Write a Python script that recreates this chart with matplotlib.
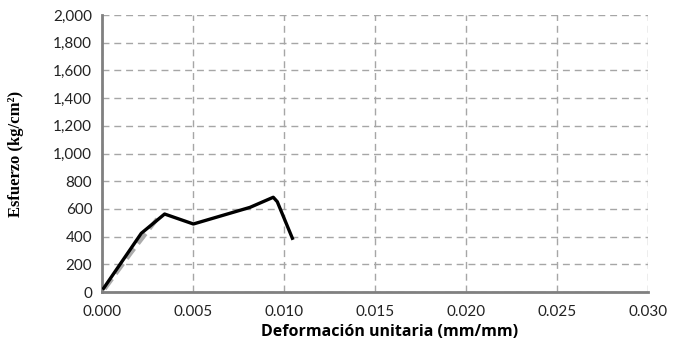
import matplotlib
matplotlib.use("Agg")
import matplotlib.pyplot as plt
from matplotlib.ticker import FuncFormatter

strain = [0.00009, 0.00216, 0.00344, 0.00502, 0.00813, 0.00941, 0.00963, 0.01046]
stress = [27, 424, 563, 491, 611, 684, 652, 388]

fit_strain = [0.00015, 0.00161, 0.00317]
fit_stress = [22, 285, 552]

xticks = [0.000, 0.005, 0.010, 0.015, 0.020, 0.025, 0.030]
yticks = list(range(0, 2001, 200))

fig = plt.figure(figsize=(6.73, 3.45), dpi=100)
ax = fig.add_axes([102/673, 1-292/345, (648-102)/673, (292-15)/345])

ax.plot(fit_strain, fit_stress, color="#ababab", lw=3.0, linestyle=(0, (3, 1.5)), zorder=3)
ax.plot(strain, stress, color="black", lw=2.4, zorder=4, solid_joinstyle="round")

ax.set_xlim(0, 0.030)
ax.set_ylim(0, 2000)
ax.set_xticks(xticks)
ax.set_yticks(yticks)
ax.xaxis.set_major_formatter(FuncFormatter(lambda v, p: f"{v:.3f}"))
ax.yaxis.set_major_formatter(FuncFormatter(lambda v, p: f"{int(round(v)):,}"))
ax.grid(True, color="#a6a6a6", lw=1.0, linestyle=(0, (5, 3.5)))
ax.set_axisbelow(True)
for s in ["top", "right"]:
    ax.spines[s].set_visible(False)
for s in ["left", "bottom"]:
    ax.spines[s].set_color("#808080")
    ax.spines[s].set_linewidth(2)
ax.tick_params(length=0, labelsize=11, colors="#222222")
ax.tick_params(axis="y", pad=7)
ax.tick_params(axis="x", pad=9)
for lab in ax.get_xticklabels() + ax.get_yticklabels():
    lab.set_family("Lato")

ax.set_xlabel("Deformación unitaria (mm/mm)", fontsize=11.5, fontweight="bold", family="Open Sans")
ax.xaxis.set_label_coords((390 - 102) / 546, -0.145, transform=ax.transAxes)
ax.xaxis.label.set_va("center")
ax.set_ylabel("Esfuerzo (kg/cm²)", fontsize=12, fontweight="bold", family="Liberation Serif", labelpad=21)

fig.savefig("out.png", dpi=100)
